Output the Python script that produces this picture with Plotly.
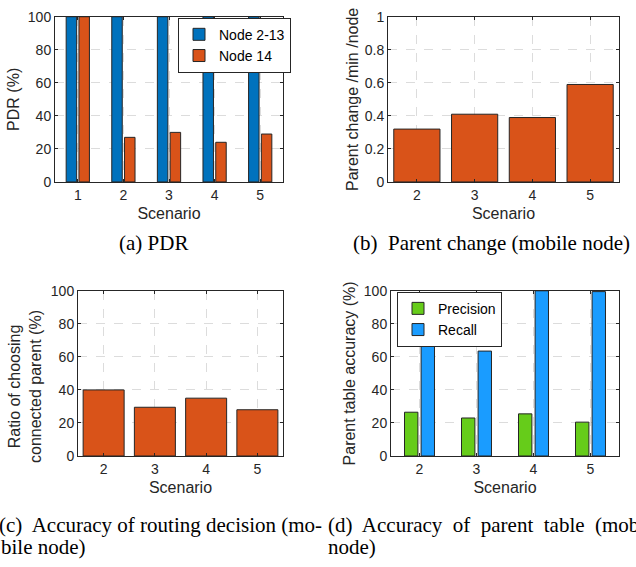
import plotly.graph_objects as go

W, H = 636, 567

# ---- data ----
scen_a = [1, 2, 3, 4, 5]
pdr_node_2_13 = [100, 100, 100, 100, 100]
pdr_node_14 = [100, 27, 30, 24, 29]

scen_b = [2, 3, 4, 5]
parent_change = [0.32, 0.41, 0.39, 0.59]

scen_c = [2, 3, 4, 5]
ratio_connected = [40, 29.5, 35, 28]

scen_d = [2, 3, 4, 5]
precision = [26.5, 23, 25.5, 20.5]
recall = [72, 63.5, 100, 99.5]

# ---- styles ----
BLUE = "#0072BD"
ORANGE = "#D95319"
GREEN = "#66CC1A"
LBLUE = "#1A9CFF"
EDGE = "#262626"
AX = "#262626"
GRID = "#DCDCDC"
SANS = "Liberation Sans"
SERIF = "Liberation Serif"


def px_x(a, b):
    return [a / W, b / W]


def px_y(top, bottom):
    return [1 - bottom / H, 1 - top / H]


fig = go.Figure()

bar_line = dict(color=EDGE, width=1)

# (a)
fig.add_trace(go.Bar(x=scen_a, y=pdr_node_2_13, name="Node 2-13", marker=dict(color=BLUE, line=bar_line),
                     width=0.23, offset=-0.255, xaxis="x", yaxis="y", legend="legend"))
fig.add_trace(go.Bar(x=scen_a, y=pdr_node_14, name="Node 14", marker=dict(color=ORANGE, line=bar_line),
                     width=0.23, offset=0.025, xaxis="x", yaxis="y", legend="legend"))
# (b)
fig.add_trace(go.Bar(x=scen_b, y=parent_change, marker=dict(color=ORANGE, line=bar_line),
                     width=0.8, offset=-0.4, xaxis="x2", yaxis="y2", showlegend=False))
# (c)
fig.add_trace(go.Bar(x=scen_c, y=ratio_connected, marker=dict(color=ORANGE, line=bar_line),
                     width=0.8, offset=-0.4, xaxis="x3", yaxis="y3", showlegend=False))
# (d)
fig.add_trace(go.Bar(x=scen_d, y=precision, name="Precision", marker=dict(color=GREEN, line=bar_line),
                     width=0.235, offset=-0.263, xaxis="x4", yaxis="y4", legend="legend2"))
fig.add_trace(go.Bar(x=scen_d, y=recall, name="Recall", marker=dict(color=LBLUE, line=bar_line),
                     width=0.235, offset=0.028, xaxis="x4", yaxis="y4", legend="legend2"))

tickfont = dict(family=SANS, size=14, color=AX)
titlefont = dict(family=SANS, size=16, color=AX)


def xax(domain, anchor, rng, ticks):
    return dict(domain=domain, anchor=anchor, range=rng, tickmode="array", tickvals=ticks,
                showline=True, linecolor=AX, linewidth=1, mirror="ticks",
                ticks="inside", ticklen=3, tickcolor=AX, tickfont=tickfont,
                showgrid=True, gridcolor=GRID, griddash="dash", gridwidth=1, zeroline=False,
                title=dict(text="Scenario", font=titlefont, standoff=6), fixedrange=True)


def yax(domain, anchor, rng, dtick, title, standoff=4):
    return dict(domain=domain, anchor=anchor, range=rng, dtick=dtick, tick0=0,
                showline=True, linecolor=AX, linewidth=1, mirror="ticks",
                ticks="inside", ticklen=3, tickcolor=AX, tickfont=tickfont,
                showgrid=True, gridcolor=GRID, griddash="dash", gridwidth=1, zeroline=False,
                title=dict(text=title, font=titlefont, standoff=standoff), fixedrange=True)


dom_a_x, dom_ab_y = px_x(55, 283), px_y(9, 179)
dom_b_x = px_x(388, 619)
dom_c_x, dom_cd_y = px_x(78, 283), px_y(291, 461)
dom_d_x = px_x(391, 619)

legend_common = dict(font=dict(family=SANS, size=14, color="black"), bgcolor="white",
                     bordercolor=AX, borderwidth=1, xanchor="left", yanchor="top",
                     tracegroupgap=0, itemwidth=30)

fig.update_layout(
    width=W, height=H, margin=dict(l=0, r=0, t=0, b=0),
    paper_bgcolor="white", plot_bgcolor="white",
    barmode="overlay",
    xaxis=xax(dom_a_x, "y", [0.5, 5.5], scen_a),
    yaxis=yax(dom_ab_y, "x", [0, 100], 20, "PDR (%)"),
    xaxis2=xax(dom_b_x, "y2", [1.5, 5.5], scen_b),
    yaxis2=yax(dom_ab_y, "x2", [0, 1], 0.2, "Parent change /min /node", standoff=2),
    xaxis3=xax(dom_c_x, "y3", [1.5, 5.5], scen_c),
    yaxis3=yax(dom_cd_y, "x3", [0, 100], 20, ""),
    xaxis4=xax(dom_d_x, "y4", [1.5, 5.5], scen_d),
    yaxis4=yax(dom_cd_y, "x4", [0, 100], 20, "Parent table accuracy (%)"),
    legend=dict(x=178 / W, y=1 - 10 / H, **legend_common),
    legend2=dict(x=397 / W, y=1 - 292 / H, **legend_common),
    showlegend=True,
)

# y-axis title of (c), placed as in the reference (slightly below the axis centre)
fig.add_annotation(text="Ratio of choosing<br>connected parent (%)", xref="paper", yref="paper",
                   x=25 / W, y=1 - 390 / H, xanchor="center", yanchor="middle", textangle=-90,
                   showarrow=False, font=titlefont, align="center")

cap_font = dict(family=SERIF, size=21, color="black")
captions = [
    ("(a) PDR", 153, 242, "center"),
    ("(b)  Parent change (mobile node)", 491, 242, "center"),
    ("(c)  Accuracy of routing decision (mo-", -3, 532, "left"),
    ("bile node)", -1, 555, "left"),
    ("(d)  Accuracy  of  parent  table  (mobile", 326, 532, "left"),
    ("node)", 326, 555, "left"),
]
for text, x, y, anchor in captions:
    fig.add_annotation(text=text, xref="paper", yref="paper", x=x / W, y=1 - y / H,
                       xanchor=anchor, yanchor="middle", showarrow=False, font=cap_font)

fig.write_html("out.html")
